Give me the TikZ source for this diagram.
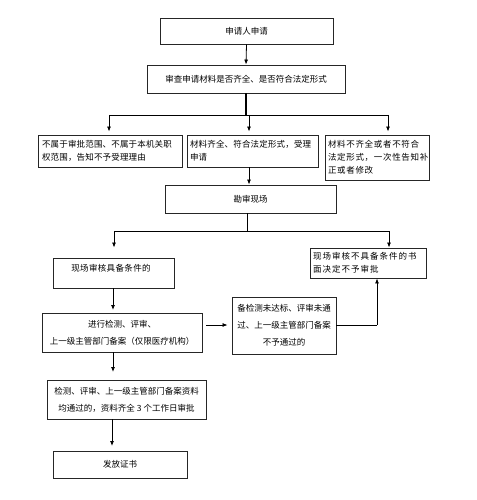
\documentclass[tikz,border=0pt]{standalone}
\usepackage{fontspec}
\setmainfont{Noto Sans CJK SC}
\usetikzlibrary{arrows.meta}
\begin{document}
\begin{tikzpicture}[x=1pt,y=-1pt,
  box/.style={draw=black!85, line width=0.9pt, inner sep=0pt, anchor=center},
  tsm/.style={font=\fontsize{8.5}{13}\selectfont},
  tbg/.style={font=\fontsize{8.5}{17}\selectfont},
  arr/.style={draw=black, line width=0.8pt, -{Latex[length=5pt,width=4pt]}},
  ln/.style={draw=black, line width=0.8pt}]
\useasboundingbox[fill=white] (0,0) rectangle (476,500);
% boxes
\node[box,tsm,minimum width=173pt,minimum height=26pt] (n1) at (246.5,31) {申请人申请};
\node[box,tsm,minimum width=198pt,minimum height=28pt] (n2) at (246,79) {审查申请材料是否齐全、是否符合法定形式};
\node[box,tsm,minimum width=144pt,minimum height=32pt,text width=136pt,align=left] (n3a) at (110,151) {\addfontfeature{LetterSpace=2}不属于审批范围、不属于本机关职\\权范围，告知不予受理理由};
\node[box,tsm,minimum width=131pt,minimum height=32pt,text width=125pt,align=left] (n3b) at (252.5,151) {\addfontfeature{LetterSpace=2}材料齐全、符合法定形式，受理\\申请};
\node[box,tsm,minimum width=104pt,minimum height=45pt,text width=98pt,align=left] (n3c) at (377,157.5) {\addfontfeature{LetterSpace=8}材料不齐全或者不符合\\法定形式，一次性告知补\\正或者修改};
\node[box,tsm,minimum width=171pt,minimum height=28pt] (n4) at (250.5,199) {勘审现场};
\node[box,minimum width=121pt,minimum height=30pt] (n5L) at (113.5,273) {};
\node[tsm,inner sep=0pt] (t5L) at (111,268) {\addfontfeature{LetterSpace=4}现场审核具备条件的};
\node[box,tsm,minimum width=116pt,minimum height=30pt,text width=110pt,align=left] (n5R) at (368,263) {\addfontfeature{LetterSpace=12}现场审核不具备条件的书\\面决定不予审批};
\node[box,tbg,minimum width=160pt,minimum height=39pt,align=center] (n6) at (122,332.5) {进行检测、评审、\\上一级主管部门备案（仅限医疗机构）};
\node[box,tbg,minimum width=104pt,minimum height=57pt,align=center] (n7) at (284,325.5) {备检测未达标、评审未通\\过、上一级主管部门备案\\不予通过的};
\node[box,tbg,minimum width=159pt,minimum height=39pt,align=center] (n8) at (126.5,399.5) {检测、评审、上一级主管部门备案资料\\均通过的，资料齐全 3 个工作日审批};
\node[box,tsm,minimum width=134pt,minimum height=27pt] (n9) at (120,464.5) {发放证书};
% junction coordinates
\coordinate (j1) at (246,115);
\coordinate (j1L) at (109,115);
\coordinate (j1M) at (249,115);
\coordinate (j1R) at (388,115);
\coordinate (j2) at (247,231);
\coordinate (j2L) at (114,231);
\coordinate (j2R) at (389,231);
\coordinate (k7) at (377,325);
% connectors
\draw[arr] (n1.south) -- (n2.north);
\draw[ln, line width=1.8pt] (n2.south) -- (j1);
\draw[ln] (j1L) -- (j1R);
\draw[arr,shorten >=3pt] (j1L) -- (j1L |- n3a.north);
\draw[arr,shorten >=3pt] (j1M) -- (j1M |- n3b.north);
\draw[arr,shorten >=3pt] (j1R) -- (j1R |- n3c.north);
\draw[arr] (n3b.south -| j1M) -- (n4.north -| j1M);
\draw[ln] (n4.south -| j2) -- (j2);
\draw[ln] (j2L) -- (j2R);
\draw[arr,shorten >=10pt] (j2L) -- (j2L |- n5L.north);
\draw[arr] (j2R) -- (j2R |- n5R.north);
\draw[arr,shorten >=3pt] (113,288) -- (113,313);
\draw[arr,shorten <=4pt,shorten >=4pt] (n6.east |- k7) -- (n7.west |- k7);
\draw[ln] (n7.east |- k7) -- (k7);
\draw[arr] (k7) -- (k7 |- n5R.south);
\draw[arr,shorten >=8pt] (113,352) -- (113,380);
\draw[arr,shorten >=5pt] (112,419) -- (112,451);
\end{tikzpicture}
\end{document}
